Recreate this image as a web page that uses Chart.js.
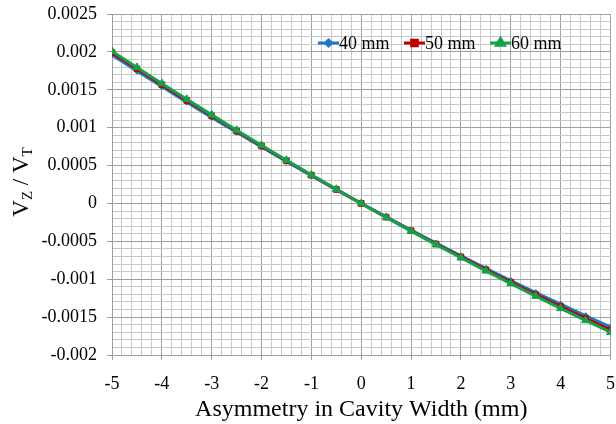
<!DOCTYPE html>
<html>
<head>
<meta charset="utf-8">
<script src="https://cdn.jsdelivr.net/npm/chart.js@4/dist/chart.umd.min.js"></script>
<style>
  html, body { margin: 0; padding: 0; background: #fff; }
  #wrap { width: 616px; height: 424px; position: relative; }
</style>
</head>
<body>
<div id="wrap"><canvas id="chart" width="616" height="424"></canvas></div>
<script>
const asymmetry = [-5, -4.5, -4, -3.5, -3, -2.5, -2, -1.5, -1, -0.5, 0, 0.5, 1, 1.5, 2, 2.5, 3, 3.5, 4, 4.5, 5];
const series40 = [0.00196, 0.001749, 0.001542, 0.001337, 0.001136, 0.000939, 0.000744, 0.000553, 0.000366, 0.000181, 0,
  -0.000178, -0.000352, -0.000524, -0.000692, -0.000856, -0.001018, -0.001176, -0.00133, -0.001482, -0.00163];
const series50 = [0.00199, 0.001777, 0.001566, 0.001359, 0.001156, 0.000955, 0.000758, 0.000563, 0.000372, 0.000185, 0,
  -0.000181, -0.00036, -0.000535, -0.000706, -0.000875, -0.00104, -0.001203, -0.001362, -0.001517, -0.00167];
const series60 = [0.00201, 0.001795, 0.001583, 0.001375, 0.001169, 0.000966, 0.000767, 0.00057, 0.000377, 0.000187, 0,
  -0.000184, -0.000365, -0.000543, -0.000717, -0.000889, -0.001057, -0.001223, -0.001385, -0.001544, -0.0017];
const seriesNames = ["40 mm", "50 mm", "60 mm"];
const yMajorTicks = [-0.002, -0.0015, -0.001, -0.0005, 0, 0.0005, 0.001, 0.0015, 0.002, 0.0025];

const FONT = "'Liberation Serif', 'Times New Roman', serif";
const MAJOR = "#a0a0a0";
const MINOR = "#c8c8c8";

const toPoints = vals => asymmetry.map((x, i) => ({ x: x, y: vals[i] }));

function isMultiple(v, step) {
    const r = v / step;
    return Math.abs(r - Math.round(r)) < 1e-6;
}

function fmtY(v) {
    if (Math.abs(v) < 1e-12) return "0";
    return String(parseFloat(v.toFixed(4)));
}

// legend drawn inside the plot, plus the y title with subscripts
const overlayPlugin = {
    id: "overlay",
    afterDraw(chart) {
        const ctx = chart.ctx;
        ctx.save();

        // legend
        const items = [
            { x: 318, ds: chart.data.datasets[0] },
            { x: 404, ds: chart.data.datasets[1] },
            { x: 490, ds: chart.data.datasets[2] }
        ];
        const ly = 43;
        items.forEach(it => {
            ctx.strokeStyle = it.ds.borderColor;
            ctx.lineWidth = 3;
            ctx.beginPath();
            ctx.moveTo(it.x, ly);
            ctx.lineTo(it.x + 21, ly);
            ctx.stroke();
            ctx.fillStyle = it.ds.backgroundColor;
            Chart.helpers.drawPoint(ctx, {
                pointStyle: it.ds.pointStyle,
                radius: it.ds.pointRadius,
                rotation: 0,
                borderWidth: 1
            }, it.x + 10.5, ly);
            ctx.fillStyle = "#000";
            ctx.font = "18px " + FONT;
            ctx.textBaseline = "middle";
            ctx.textAlign = "left";
            ctx.fillText(it.ds.label, it.x + 21, ly + 1);
        });

        // y axis title: V_Z / V_T
        ctx.translate(28, 182);
        ctx.rotate(-Math.PI / 2);
        ctx.fillStyle = "#000";
        ctx.textBaseline = "alphabetic";
        ctx.textAlign = "left";
        const parts = [
            { t: "V", size: 23, dy: 0 },
            { t: "Z", size: 15, dy: 4 },
            { t: " / V", size: 23, dy: 0 },
            { t: "T", size: 15, dy: 4 }
        ];
        let total = 0;
        parts.forEach(p => { ctx.font = p.size + "px " + FONT; total += ctx.measureText(p.t).width; });
        let px = -total / 2;
        parts.forEach(p => {
            ctx.font = p.size + "px " + FONT;
            ctx.fillText(p.t, px, p.dy);
            px += ctx.measureText(p.t).width;
        });
        ctx.restore();
    }
};

const datasets = [
    {
        label: seriesNames[0], data: toPoints(series40),
        borderColor: "#1f77c8", backgroundColor: "#1f77c8",
        pointStyle: "rectRot", pointRadius: 3, borderWidth: 3, order: 2
    },
    {
        label: seriesNames[1], data: toPoints(series50),
        borderColor: "#c00000", backgroundColor: "#c00000",
        pointStyle: "rect", pointRadius: 4, borderWidth: 3, order: 1
    },
    {
        label: seriesNames[2], data: toPoints(series60),
        borderColor: "#13a24a", backgroundColor: "#13a24a",
        pointStyle: "triangle", pointRadius: 4.5, borderWidth: 3, order: 0
    }
];
datasets.forEach(d => { d.pointBorderWidth = 1; d.pointBorderColor = d.borderColor; d.tension = 0; });

new Chart(document.getElementById("chart"), {
    type: "line",
    data: { datasets: datasets },
    plugins: [overlayPlugin],
    options: {
        responsive: false,
        animation: false,
        events: [],
        layout: { padding: { left: 0, right: 2, top: 14, bottom: 0 } },
        plugins: { legend: { display: false }, tooltip: { enabled: false } },
        scales: {
            x: {
                type: "linear",
                min: -5, max: 5,
                afterFit: s => { s.height = 69; s.paddingLeft = 0; s.paddingRight = 0; },
                border: { color: MAJOR, width: 1 },
                grid: {
                    color: c => isMultiple(c.tick.value, 1) ? MAJOR : MINOR,
                    tickColor: c => isMultiple(c.tick.value, 1) ? MAJOR : "rgba(0,0,0,0)",
                    tickLength: 5
                },
                ticks: {
                    stepSize: 0.2,
                    maxTicksLimit: 100,
                    autoSkip: false,
                    maxRotation: 0,
                    padding: 13,
                    color: "#000",
                    font: { family: FONT, size: 18 },
                    callback: v => isMultiple(v, 1) ? String(Math.round(v)) : ""
                },
                title: {
                    display: true,
                    text: "Asymmetry in Cavity Width (mm)",
                    color: "#000",
                    font: { family: FONT, size: 24 },
                    padding: { top: 0, bottom: 0 }
                }
            },
            y: {
                type: "linear",
                min: yMajorTicks[0], max: yMajorTicks[yMajorTicks.length - 1],
                afterFit: s => { s.width = 112; s.paddingTop = 0; s.paddingBottom = 0; },
                border: { color: MAJOR, width: 1 },
                grid: {
                    color: c => isMultiple(c.tick.value, 0.0005) ? MAJOR : MINOR,
                    tickColor: c => isMultiple(c.tick.value, 0.0005) ? MAJOR : "rgba(0,0,0,0)",
                    tickLength: 5
                },
                ticks: {
                    stepSize: 0.0001,
                    maxTicksLimit: 100,
                    autoSkip: false,
                    padding: 10,
                    color: "#000",
                    font: { family: FONT, size: 18 },
                    callback: v => isMultiple(v, 0.0005) ? fmtY(v) : ""
                }
            }
        }
    }
});
</script>
</body>
</html>
